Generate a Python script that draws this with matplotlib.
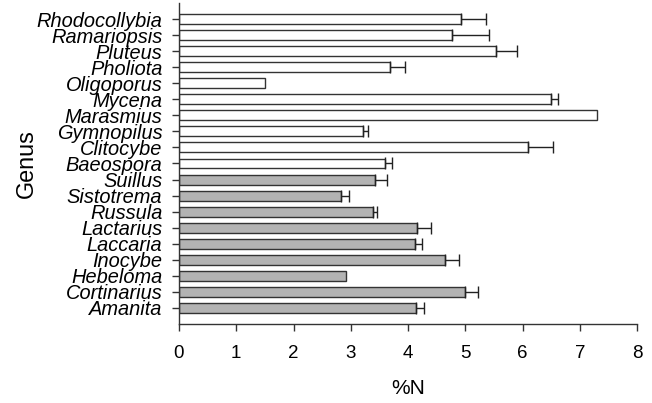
import matplotlib
matplotlib.use("Agg")
import matplotlib.pyplot as plt
import numpy as np

genera = ["Rhodocollybia", "Ramariopsis", "Pluteus", "Pholiota", "Oligoporus",
          "Mycena", "Marasmius", "Gymnopilus", "Clitocybe", "Baeospora",
          "Suillus", "Sistotrema", "Russula", "Lactarius", "Laccaria",
          "Inocybe", "Hebeloma", "Cortinarius", "Amanita"]
values = [4.92, 4.77, 5.53, 3.69, 1.51, 6.50, 7.29, 3.21, 6.09, 3.60,
          3.43, 2.83, 3.39, 4.16, 4.12, 4.64, 2.91, 5.00, 4.14]
errors = [0.44, 0.64, 0.37, 0.26, 0.0, 0.12, 0.0, 0.09, 0.43, 0.12,
          0.20, 0.13, 0.07, 0.24, 0.12, 0.24, 0.0, 0.22, 0.13]
groups = ["sap"] * 10 + ["ecm"] * 9
group_colors = {"sap": "#ffffff", "ecm": "#b3b3b3"}

plt.rcParams['font.family'] = ['Liberation Sans', 'DejaVu Sans']

fig = plt.figure(figsize=(6.52, 4.03), dpi=100)
ax = fig.add_axes([0.2745, 0.196, 0.703, 0.7966])

n = len(genera)
ypos = np.arange(n)[::-1]
colors = [group_colors[g] for g in groups]
ax.barh(ypos, values, height=0.62, color=colors, edgecolor="#333333",
        linewidth=1.0, zorder=2)
for y, v, e in zip(ypos, values, errors):
    if e > 0:
        ax.errorbar(v, y, xerr=[[0], [e]], fmt="none", ecolor="#222222",
                    elinewidth=1.0, capsize=4, capthick=1.0, zorder=3)

ax.set_xlim(0, 8)
ax.set_ylim(-1, n)
ax.set_xticks(range(0, 9))
ax.set_xticklabels([str(i) for i in range(0, 9)], fontsize=13.5)
ax.set_yticks(ypos)
ax.set_yticklabels(genera, fontsize=14.4, style="italic")
ax.tick_params(axis="x", direction="out", length=5, width=1, colors="#333333",
               labelcolor="black", pad=10)
ax.tick_params(axis="y", direction="out", length=5, width=1, colors="#333333",
               labelcolor="black", pad=7)

ax.spines["top"].set_visible(False)
ax.spines["right"].set_visible(False)
for s in ["left", "bottom"]:
    ax.spines[s].set_color("#333333")
    ax.spines[s].set_linewidth(1.0)

ax.set_xlabel("%N", fontsize=15, labelpad=12)
ax.set_ylabel("Genus", fontsize=16.8)
ax.yaxis.set_label_coords(-0.308, 0.5)

fig.savefig("out.png", dpi=100)
